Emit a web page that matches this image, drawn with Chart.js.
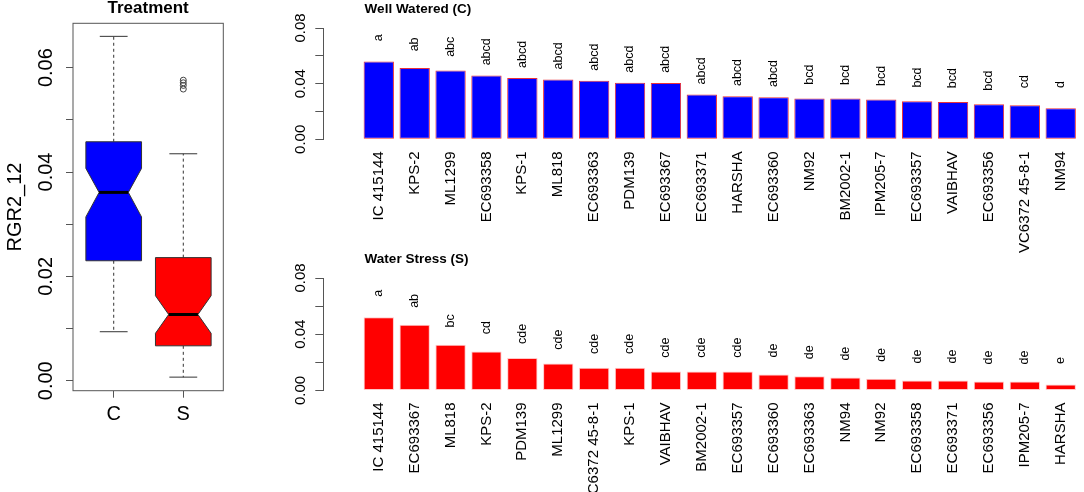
<!DOCTYPE html>
<html>
<head>
<meta charset="utf-8">
<script src="https://cdn.jsdelivr.net/npm/chart.js@4.4.1/dist/chart.umd.min.js"></script>
<style>
html, body { margin: 0; padding: 0; background: #fff; }
#wrap { position: relative; width: 1084px; height: 492px; overflow: hidden; }
canvas { position: absolute; }
</style>
</head>
<body>
<div id="wrap">
  <canvas id="boxChart" width="240" height="492" style="left:0;top:0"></canvas>
  <canvas id="wwChart" width="804" height="262" style="left:280px;top:0"></canvas>
  <canvas id="wsChart" width="804" height="242" style="left:280px;top:250px"></canvas>
</div>
<script>
"use strict";

const FONT = "Arial, 'Liberation Sans', sans-serif";
const AXIS_GREY = "#555555";

// RGR2_12 by treatment (notched box plot)
const boxGroups = ["C", "S"];
const boxMin = [0.0094, 0.0007];
const boxQ1 = [0.0230, 0.0067];
const boxMedian = [0.0361, 0.0127];
const boxQ3 = [0.0458, 0.0236];
const boxMax = [0.0660, 0.0435];
const notchLow = [0.0314, 0.0091];
const notchHigh = [0.0407, 0.0163];
const boxOutliers = [[], [0.0576, 0.0571, 0.0566, 0.0559]];
const boxFill = ["#0000ff", "#ff0000"];
const boxTicks = [0, 0.01, 0.02, 0.03, 0.04, 0.05, 0.06];

// Well Watered (C)
const wwNames = ["IC 415144", "KPS-2", "ML1299", "EC693358", "KPS-1", "ML818", "EC693363", "PDM139", "EC693367", "EC693371",
  "HARSHA", "EC693360", "NM92", "BM2002-1", "IPM205-7", "EC693357", "VAIBHAV", "EC693356", "VC6372 45-8-1", "NM94"];
const wwValues = [0.0559, 0.0512, 0.0495, 0.0459, 0.0440, 0.0430, 0.0420, 0.0406, 0.0405, 0.0322,
  0.0310, 0.0303, 0.0294, 0.0293, 0.0286, 0.0274, 0.0269, 0.0252, 0.0245, 0.0224];
const wwLetters = ["a", "ab", "abc", "abcd", "abcd", "abcd", "abcd", "abcd", "abcd", "abcd",
  "abcd", "abcd", "bcd", "bcd", "bcd", "bcd", "bcd", "bcd", "cd", "d"];

// Water Stress (S)
const wsNames = ["IC 415144", "EC693367", "ML818", "KPS-2", "PDM139", "ML1299", "VC6372 45-8-1", "KPS-1", "VAIBHAV", "BM2002-1",
  "EC693357", "EC693360", "EC693363", "NM94", "NM92", "EC693358", "EC693371", "EC693356", "IPM205-7", "HARSHA"];
const wsValues = [0.0521, 0.0467, 0.0325, 0.0277, 0.0232, 0.0192, 0.0161, 0.0161, 0.0135, 0.0135,
  0.0135, 0.0114, 0.0102, 0.0092, 0.0083, 0.0071, 0.0071, 0.0064, 0.0064, 0.0043];
const wsLetters = ["a", "ab", "bc", "cd", "cde", "cde", "cde", "cde", "cde", "cde",
  "cde", "de", "de", "de", "de", "de", "de", "de", "de", "e"];

const barTicks = [0, 0.02, 0.04, 0.06, 0.08];
const LETTER_GAP = 0.017;

Chart.defaults.animation = false;
Chart.defaults.font.family = FONT;
Chart.defaults.color = "#000";

function line(ctx, x1, y1, x2, y2) {
    ctx.beginPath();
    ctx.moveTo(x1, y1);
    ctx.lineTo(x2, y2);
    ctx.stroke();
}

// notched boxes, whiskers and the frame, placed with the chart scales
const boxDraw = {
    id: "boxDraw",
    beforeDatasetsDraw(chart) {
        const ctx = chart.ctx;
        const area = chart.chartArea;
        const x = chart.scales.x;
        const y = chart.scales.y;
        const py = v => y.getPixelForValue(v);
        ctx.save();
        boxGroups.forEach((g, i) => {
            const c = i + 1;
            const l = x.getPixelForValue(c - 0.40), r = x.getPixelForValue(c + 0.40);
            const il = x.getPixelForValue(c - 0.21), ir = x.getPixelForValue(c + 0.21);
            const cl = x.getPixelForValue(c - 0.20), cr = x.getPixelForValue(c + 0.20);
            const m = x.getPixelForValue(c);

            ctx.strokeStyle = "#333";
            ctx.lineWidth = 1;
            ctx.setLineDash([3, 3]);
            line(ctx, m, py(boxQ3[i]), m, py(boxMax[i]));
            line(ctx, m, py(boxQ1[i]), m, py(boxMin[i]));
            ctx.setLineDash([]);
            line(ctx, cl, py(boxMax[i]), cr, py(boxMax[i]));
            line(ctx, cl, py(boxMin[i]), cr, py(boxMin[i]));

            ctx.beginPath();
            ctx.moveTo(l, py(boxQ3[i]));
            ctx.lineTo(r, py(boxQ3[i]));
            ctx.lineTo(r, py(notchHigh[i]));
            ctx.lineTo(ir, py(boxMedian[i]));
            ctx.lineTo(r, py(notchLow[i]));
            ctx.lineTo(r, py(boxQ1[i]));
            ctx.lineTo(l, py(boxQ1[i]));
            ctx.lineTo(l, py(notchLow[i]));
            ctx.lineTo(il, py(boxMedian[i]));
            ctx.lineTo(l, py(notchHigh[i]));
            ctx.closePath();
            ctx.fillStyle = boxFill[i];
            ctx.fill();
            ctx.stroke();

            ctx.lineWidth = 3;
            ctx.strokeStyle = "#000";
            line(ctx, il, py(boxMedian[i]), ir, py(boxMedian[i]));
        });
        ctx.lineWidth = 1;
        ctx.strokeStyle = AXIS_GREY;
        ctx.strokeRect(area.left, area.top, area.width, area.height);
        ctx.restore();
    }
};

new Chart(document.getElementById("boxChart"), {
    type: "scatter",
    data: {
        datasets: [{
            data: boxOutliers.flatMap((arr, i) => arr.map(v => ({x: i + 1, y: v}))),
            pointStyle: "circle",
            pointRadius: 3,
            pointBorderWidth: 1,
            pointBorderColor: "#444",
            pointBackgroundColor: "rgba(0,0,0,0)"
        }]
    },
    options: {
        responsive: false,
        layout: {padding: {left: 0, right: 16.7, top: 0, bottom: 61.3}},
        plugins: {
            legend: {display: false},
            tooltip: {enabled: false},
            title: {
                display: true,
                text: "Treatment",
                fullSize: false,
                color: "#000",
                font: {family: FONT, size: 17, weight: "bold", lineHeight: 1},
                padding: {top: 0, bottom: 6.3}
            }
        },
        scales: {
            x: {
                type: "linear",
                min: 0.415,
                max: 2.575,
                afterBuildTicks: s => { s.ticks = boxGroups.map((g, i) => ({value: i + 1})); },
                afterFit: s => { s.height = 40; s.paddingLeft = 0; s.paddingRight = 0; },
                grid: {drawOnChartArea: false, tickLength: 7, color: AXIS_GREY},
                border: {display: false},
                ticks: {
                    autoSkip: false, maxRotation: 0, padding: 5,
                    font: {family: FONT, size: 20},
                    callback: (v, i) => boxGroups[i]
                }
            },
            y: {
                min: -0.0019,
                max: 0.0685,
                afterBuildTicks: s => { s.ticks = boxTicks.map(v => ({value: v})); },
                afterFit: s => { s.width = 73; },
                grid: {drawOnChartArea: false, tickLength: 7, color: AXIS_GREY},
                border: {display: false},
                ticks: {
                    autoSkip: false, minRotation: 90, maxRotation: 90, crossAlign: "center", padding: 0,
                    font: {family: FONT, size: 20},
                    callback: (v, i) => (i % 2 === 0 ? v.toFixed(2) : "")
                },
                title: {
                    display: true,
                    text: "RGR2_12",
                    color: "#000",
                    font: {family: FONT, size: 20},
                    padding: {top: 3, bottom: 0}
                }
            }
        }
    },
    plugins: [boxDraw]
});

function makeBarChart(id, title, names, values, letters, fill, edge, xAxisHeight) {
    // letters over the bars and the panel title
    const notes = {
        id: "notes",
        afterDatasetsDraw(chart) {
            const ctx = chart.ctx;
            const y = chart.scales.y;
            const bars = chart.getDatasetMeta(0).data;
            ctx.save();
            ctx.fillStyle = "#000";
            ctx.font = "12.5px " + FONT;
            ctx.textAlign = "center";
            ctx.textBaseline = "middle";
            bars.forEach((bar, i) => {
                ctx.save();
                ctx.translate(bar.x, y.getPixelForValue(values[i] + LETTER_GAP));
                ctx.rotate(-Math.PI / 2);
                ctx.fillText(letters[i], 0, 0);
                ctx.restore();
            });
            ctx.font = "bold 13.5px " + FONT;
            ctx.textAlign = "left";
            ctx.fillText(title, bars[0].x - bars[0].width / 2 + 1, 9);
            ctx.restore();
        }
    };

    return new Chart(document.getElementById(id), {
        type: "bar",
        data: {
            datasets: [{
                data: values.map((v, i) => ({x: i + 1, y: v})),
                backgroundColor: fill,
                borderColor: edge,
                borderWidth: 1,
                borderSkipped: false,
                barPercentage: 0.845,
                categoryPercentage: 1
            }]
        },
        options: {
            responsive: false,
            layout: {padding: {left: 0, right: 2, top: 28, bottom: 0}},
            plugins: {legend: {display: false}, tooltip: {enabled: false}},
            scales: {
                x: {
                    type: "linear",
                    offset: false,
                    min: -0.546,
                    max: 20.593,
                    afterBuildTicks: s => { s.ticks = names.map((n, i) => ({value: i + 1})); },
                    afterFit: s => { s.height = xAxisHeight; s.paddingLeft = 0; s.paddingRight = 0; },
                    grid: {display: false, drawTicks: false},
                    border: {display: false},
                    ticks: {
                        autoSkip: false, minRotation: 90, maxRotation: 90, padding: 12,
                        font: {family: FONT, size: 15},
                        callback: (v, i) => names[i]
                    }
                },
                y: {
                    min: 0,
                    max: 0.08,
                    afterBuildTicks: s => { s.ticks = barTicks.map(v => ({value: v})); },
                    afterFit: s => { s.width = 43.3; },
                    grid: {drawOnChartArea: false, tickLength: 8, color: AXIS_GREY},
                    border: {display: true, color: AXIS_GREY},
                    ticks: {
                        autoSkip: false, minRotation: 90, maxRotation: 90, crossAlign: "center", padding: 0,
                        font: {family: FONT, size: 15},
                        callback: (v, i) => (i % 2 === 0 ? v.toFixed(2) : "")
                    }
                }
            }
        },
        plugins: [notes]
    });
}

makeBarChart("wwChart", "Well Watered (C)", wwNames, wwValues, wwLetters, "#0000ff", "#e8303a", 122.7);
makeBarChart("wsChart", "Water Stress (S)", wsNames, wsValues, wsLetters, "#ff0000", "#ffc8c8", 101.5);
</script>
</body>
</html>
